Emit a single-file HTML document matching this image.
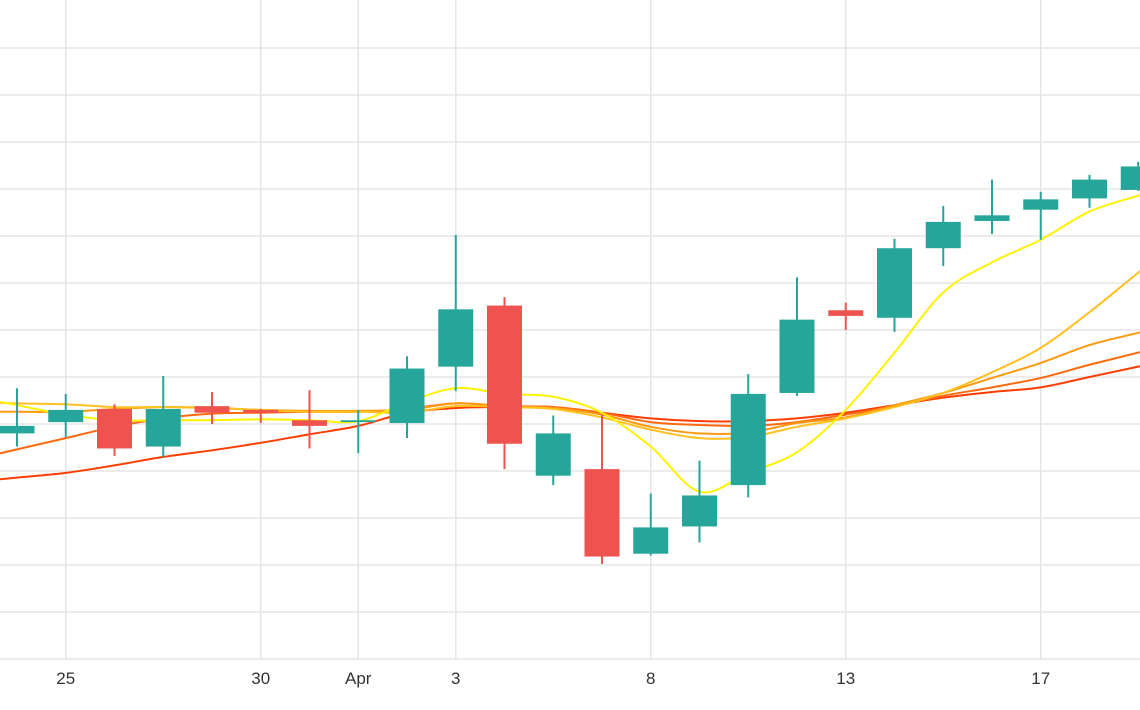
<!DOCTYPE html>
<html>
<head>
<meta charset="utf-8">
<style>
  html,body{margin:0;padding:0;background:#fff;}
  #chart{display:block;}
  text{font-family:"Liberation Sans", "DejaVu Sans", sans-serif;}
</style>
</head>
<body>
<svg id="chart" width="1140" height="710" viewBox="0 0 1140 710" xmlns="http://www.w3.org/2000/svg">
  <defs><clipPath id="plotclip"><rect x="0" y="0" width="1140" height="660"/></clipPath></defs>
  <g id="grid"></g>
  <g id="xlabels"></g>
  <g id="plot" clip-path="url(#plotclip)">
    <g id="lines"></g>
    <g id="candles"></g>
  </g>
</svg>
<script>
const openVals  = [124.0,125.2,126.6,122.6,126.9,126.5,125.4,125.2,125.1,131.1,137.6,119.5,120.2,111.2,114.1,118.5,128.3,137.1,136.3,143.7,146.6,147.8,149.0,149.9];
const highVals  = [128.8,128.2,127.1,130.1,128.4,126.6,128.6,126.5,132.2,145.1,138.5,125.9,126.0,117.6,121.1,130.3,140.6,137.9,144.7,148.2,151.0,149.7,151.5,152.9];
const lowVals   = [122.6,123.6,121.6,121.5,125.0,125.1,122.4,121.9,123.5,128.5,120.2,118.5,110.1,111.0,112.4,117.2,128.0,135.0,134.8,141.8,145.2,144.6,148.0,149.8];
const closeVals = [124.8,126.5,122.4,126.6,126.2,126.2,124.8,125.4,130.9,137.2,122.9,124.0,110.9,114.0,117.4,128.2,136.1,136.5,143.7,146.5,147.2,148.9,151.0,152.4];

const maYellow = [127.0,126.0,125.4,125.4,125.4,125.5,125.4,125.3,127.3,128.8,128.2,127.9,126.2,122.6,117.8,119.8,122.0,126.5,132.6,139.0,142.2,144.6,147.6,149.3];
const maGold   = [127.2,127.1,126.8,126.8,126.7,126.5,126.3,126.3,126.2,126.9,126.8,126.6,125.7,124.4,123.5,123.6,124.7,125.6,126.8,128.3,130.5,133.1,136.9,141.1];
const maOrange = [126.3,126.3,126.6,126.8,126.7,126.5,126.4,126.4,126.5,127.2,126.9,126.7,126.0,124.7,124.0,124.1,125.1,125.7,127.0,128.3,129.9,131.5,133.4,134.7];
const maDeep   = [122.3,123.5,124.7,125.6,126.1,126.2,126.3,126.3,126.6,127.2,126.9,126.8,126.2,125.2,124.9,124.8,125.2,126.0,126.9,128.0,128.9,129.9,131.3,132.6];
const maRed    = [119.3,119.8,120.6,121.5,122.2,123.0,123.9,124.8,126.2,126.7,126.8,126.8,126.2,125.6,125.3,125.3,125.6,126.2,127.0,127.8,128.4,128.9,130.0,131.1];

const yTicks = [100,105,110,115,120,125,130,135,140,145,150,155,160,165];
const xTickIdx = [1,5,7,9,13,17,21];
const xTickLabels = ["25","30","Apr","3","8","13","17"];

const NS = "http://www.w3.org/2000/svg";
function xs(i){ return 17 + i*48.75; }
function ys(v){ return 659 - (v-100)*9.4; }
function mk(tag, attrs, parent){
  const e = document.createElementNS(NS, tag);
  for (const k in attrs) e.setAttribute(k, attrs[k]);
  parent.appendChild(e);
  return e;
}
const grid = document.getElementById('grid');
yTicks.forEach(v=>{
  const l = mk('line',{x1:0,x2:1140,y1:ys(v),y2:ys(v),stroke:'#e6e6e6','stroke-width':1.5},grid);
  
  
});
const xl = document.getElementById('xlabels');
xTickIdx.forEach((idx,k)=>{
  const l = mk('line',{x1:xs(idx),x2:xs(idx),y1:0,y2:660,stroke:'#e6e6e6','stroke-width':1.5},grid);
  
  
  const t = mk('text',{x:xs(idx),y:684,'text-anchor':'middle','font-size':17,fill:'#333'},xl);
  t.textContent = xTickLabels[k];
  
  
});

const lines = document.getElementById('lines');
function pathFor(vals){
  const pts = vals.map((v,i)=>[xs(i), ys(v)]);
  const n = pts.length;
  const first = [2*pts[0][0]-pts[1][0], 2*pts[0][1]-pts[1][1]];
  const last = [2*pts[n-1][0]-pts[n-2][0], 2*pts[n-1][1]-pts[n-2][1]];
  const P = [first].concat(pts, [last]);
  let d = 'M'+P[0][0]+','+P[0][1];
  for (let i=0;i<P.length-1;i++){
    const p0 = P[Math.max(0,i-1)], p1 = P[i], p2 = P[i+1], p3 = P[Math.min(P.length-1,i+2)];
    const c1 = [p1[0]+(p2[0]-p0[0])/6, p1[1]+(p2[1]-p0[1])/6];
    const c2 = [p2[0]-(p3[0]-p1[0])/6, p2[1]-(p3[1]-p1[1])/6];
    d += ' C'+c1[0]+','+c1[1]+' '+c2[0]+','+c2[1]+' '+p2[0]+','+p2[1];
  }
  return d;
}
[[maRed,'#ff3d00','ma-red'],[maDeep,'#ff6a10','ma-deep-orange'],[maOrange,'#ff9a10','ma-orange'],[maGold,'#ffc020','ma-gold'],[maYellow,'#fff200','ma-yellow']].forEach(s=>{
  const p = mk('path',{d:pathFor(s[0]),fill:'none',stroke:s[1],'stroke-width':2},lines);
  
  
});

const cg = document.getElementById('candles');
openVals.forEach((o,i)=>{
  const c = closeVals[i], up = c >= o;
  const col = up ? '#26a69a' : '#ef5350';
  const g = mk('g',{},cg);
  
  
  mk('line',{x1:xs(i),x2:xs(i),y1:ys(highVals[i]),y2:ys(lowVals[i]),stroke:col,'stroke-width':2},g);
  const top = ys(Math.max(o,c)), bot = ys(Math.min(o,c));
  mk('rect',{x:xs(i)-17.5,y:top,width:35,height:Math.max(1.5,bot-top),fill:col},g);
});
</script>
</body>
</html>
